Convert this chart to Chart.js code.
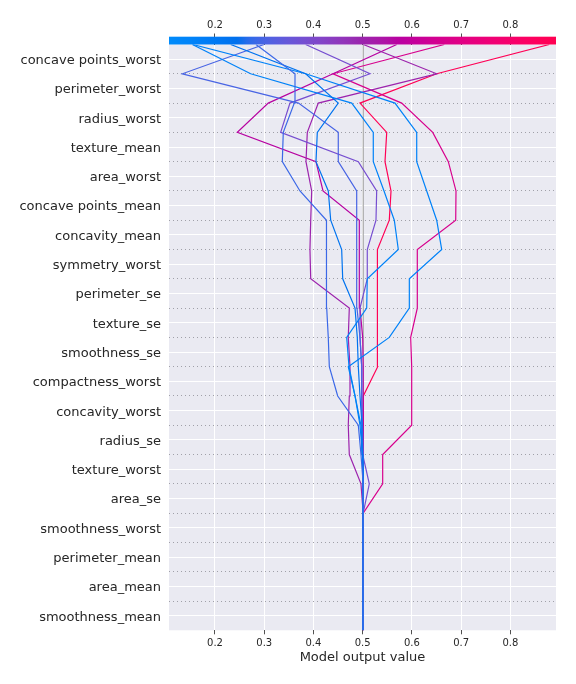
<!DOCTYPE html>
<html>
<head>
<meta charset="utf-8">
<script src="https://cdn.jsdelivr.net/npm/chart.js@4.4.0/dist/chart.umd.min.js"></script>
<style>
  html, body { margin: 0; padding: 0; background: #ffffff; }
  #wrap { width: 576px; height: 684px; }
</style>
</head>
<body>
<div id="wrap"><canvas id="c" width="576" height="684"></canvas></div>
<script>
// ---- data ----
const FEATURES = [
  "concave points_worst", "perimeter_worst", "radius_worst", "texture_mean",
  "area_worst", "concave points_mean", "concavity_mean", "symmetry_worst",
  "perimeter_se", "texture_se", "smoothness_se", "compactness_worst",
  "concavity_worst", "radius_se", "texture_worst", "area_se",
  "smoothness_worst", "perimeter_mean", "area_mean", "smoothness_mean"
];
const X_TICKS = [0.2, 0.3, 0.4, 0.5, 0.6, 0.7, 0.8];
const X_MIN = 0.1066;
const X_MAX = 0.8926;
const BASE_VALUE = 0.501;
const AXIS_TITLE = "Model output value";

// cumulative model output, from the base value (bottom) to the final output (top)
const obsA = [0.501,0.501,0.501,0.501,0.501,0.501,0.4965,0.4911,0.4492,0.4322,0.4301,0.4269,0.4269,0.4269,0.4255,0.3726,0.3367,0.3387,0.3611,0.3625,0.2833];
const obsB = [0.501,0.501,0.501,0.501,0.501,0.501,0.500,0.4986,0.4945,0.4911,0.489,0.4844,0.4594,0.4573,0.435,0.4301,0.4051,0.4078,0.4504,0.3842,0.2319];
const obsC = [0.501,0.501,0.501,0.501,0.501,0.501,0.4996,0.4965,0.4844,0.4722,0.4675,0.5081,0.5093,0.5723,0.5642,0.5433,0.5215,0.5215,0.4777,0.2725,0.154];
const obsD = [0.501,0.501,0.501,0.501,0.501,0.501,0.4996,0.4945,0.4844,0.4707,0.554,0.5947,0.5947,0.6605,0.6503,0.630,0.6097,0.6097,0.5656,0.3842,0.155];
const obsE = [0.501,0.501,0.501,0.501,0.501,0.501,0.501,0.4996,0.498,0.498,0.4945,0.4884,0.4878,0.4878,0.4878,0.4878,0.4504,0.4504,0.3696,0.1336,0.2995];
const obsF = [0.501,0.501,0.501,0.501,0.501,0.5134,0.500,0.4986,0.498,0.498,0.4945,0.4945,0.5093,0.5093,0.527,0.5284,0.4911,0.3334,0.3523,0.5148,0.3842];
const obsG = [0.501,0.501,0.501,0.501,0.501,0.4965,0.4728,0.4707,0.4728,0.4742,0.4707,0.4728,0.3944,0.3929,0.3944,0.3964,0.3848,0.3875,0.4098,0.6503,0.5012];
const obsH = [0.501,0.501,0.501,0.501,0.501,0.501,0.501,0.501,0.501,0.501,0.500,0.4945,0.4931,0.4931,0.4931,0.4194,0.4051,0.2453,0.3082,0.4397,0.5691];
const obsI = [0.501,0.501,0.501,0.501,0.501,0.5406,0.5406,0.5995,0.5995,0.5995,0.5975,0.6109,0.6109,0.6109,0.6889,0.6895,0.6739,0.6422,0.5792,0.4397,0.6658];
const obsJ = [0.501,0.501,0.501,0.501,0.501,0.501,0.501,0.501,0.5026,0.5305,0.5305,0.5297,0.5297,0.5297,0.554,0.5575,0.5453,0.5488,0.4945,0.6503,0.879];
const OBSERVATIONS = [obsA, obsB, obsC, obsD, obsE, obsF, obsG, obsH, obsI, obsJ];

// ---- colour map (shap red_blue, interpolated in LCh) ----
function redBlue(t) {
  t = Math.min(1, Math.max(0, t));
  const i = t * 99;
  const L = i <= 49 ? 54 + (40 - 54) * (i / 49) : 40 + (54 - 40) * ((i - 50) / 49);
  const C = 70 + 20 * t;
  const h = 4.6588 + (0.35470565 + 2 * Math.PI - 4.6588) * t;
  const a = C * Math.cos(h), b = C * Math.sin(h);
  const fy = (L + 16) / 116, fx = a / 500 + fy, fz = fy - b / 200;
  const finv = v => v > 0.2068966 ? v * v * v : (v - 16 / 116) / 7.787;
  const X = 0.95047 * finv(fx), Y = finv(fy), Z = 1.08883 * finv(fz);
  const r = 3.2404542 * X - 1.5371385 * Y - 0.4985314 * Z;
  const g = -0.9692660 * X + 1.8760108 * Y + 0.0415560 * Z;
  const bl = 0.0556434 * X - 0.2040259 * Y + 1.0572252 * Z;
  const gam = c => {
    c = c > 0.0031308 ? 1.055 * Math.pow(c, 1 / 2.4) - 0.055 : 12.92 * c;
    return Math.round(255 * Math.min(1, Math.max(0, c)));
  };
  return `rgb(${gam(r)},${gam(g)},${gam(bl)})`;
}
const norm = v => (v - X_MIN) / (X_MAX - X_MIN);

const TEXT = '#262626';
const FONT = "'DejaVu Sans', 'Liberation Sans', sans-serif";
Chart.defaults.font.family = FONT;

const datasets = OBSERVATIONS.map(vals => ({
  data: vals.map((v, k) => ({ x: v, y: k })),
  borderColor: redBlue(norm(vals[vals.length - 1])),
  borderWidth: 1.2,
  pointRadius: 0,
  tension: 0,
  fill: false,
  order: 0
}));
datasets.push({
  data: [{ x: BASE_VALUE, y: 0 }, { x: BASE_VALUE, y: FEATURES.length }],
  borderColor: '#999999',
  borderWidth: 1,
  pointRadius: 0,
  fill: false,
  order: 100
});

const bgPlugin = {
  id: 'bg',
  beforeDraw(chart) {
    const { ctx, chartArea: a } = chart;
    ctx.save();
    ctx.fillStyle = '#ffffff';
    ctx.fillRect(0, 0, chart.width, chart.height);
    ctx.fillStyle = '#EAEAF2';
    ctx.fillRect(a.left, a.top, a.right - a.left, a.bottom - a.top);
    ctx.restore();
  }
};
const colorbarPlugin = {
  id: 'colorbar',
  afterDraw(chart) {
    const { ctx, chartArea: a } = chart;
    const x = chart.scales.x;
    const l = x.getPixelForValue(X_MIN), r = x.getPixelForValue(X_MAX);
    const g = ctx.createLinearGradient(l, 0, r, 0);
    const n = 80;
    for (let i = 0; i <= n; i++) g.addColorStop(i / n, redBlue(i / n));
    ctx.save();
    ctx.fillStyle = g;
    ctx.fillRect(l, a.top - 7.8, r - l, 7.8);
    ctx.restore();
  }
};

const tickSet = s => { s.ticks = X_TICKS.map(v => ({ value: v })); };

new Chart(document.getElementById('c'), {
  type: 'line',
  data: { datasets },
  options: {
    responsive: false,
    animation: false,
    devicePixelRatio: 1,
    layout: { padding: { left: 0, right: 20, top: 0, bottom: 0 } },
    plugins: { legend: { display: false }, tooltip: { enabled: false } },
    scales: {
      x: {
        type: 'linear', position: 'bottom', min: X_MIN, max: X_MAX,
        afterBuildTicks: tickSet,
        ticks: { callback: v => v.toFixed(1), font: { size: 10 }, color: TEXT, padding: 2.8, maxRotation: 0, autoSkip: false },
        grid: { color: '#ffffff', lineWidth: 1, tickColor: TEXT, tickLength: 4, tickWidth: 0.8 },
        border: { display: false },
        title: { display: true, text: AXIS_TITLE, font: { size: 13 }, color: TEXT, padding: { top: 0, bottom: 18.8 } },
        afterFit: s => { s.height = 684 - 630.3; }
      },
      x2: {
        type: 'linear', position: 'top', min: X_MIN, max: X_MAX,
        afterBuildTicks: tickSet,
        ticks: { callback: v => v.toFixed(1), font: { size: 10 }, color: TEXT, padding: 2.4, maxRotation: 0, autoSkip: false },
        grid: { drawOnChartArea: false, color: TEXT, tickLength: 11, lineWidth: 0.8 },
        border: { display: false },
        afterFit: s => { s.height = 44.5; }
      },
      y: {
        type: 'linear', position: 'left', min: 0, max: FEATURES.length,
        afterBuildTicks: s => { s.ticks = FEATURES.map((_, i) => ({ value: FEATURES.length - 0.5 - i })); },
        ticks: {
          callback: v => FEATURES[Math.round(FEATURES.length - 0.5 - v)],
          font: { size: 13 }, color: TEXT, padding: 8, autoSkip: false, labelOffset: 1.5
        },
        grid: { color: '#ffffff', lineWidth: 1, drawTicks: false },
        border: { display: false },
        afterFit: s => { s.width = 169; }
      },
      y2: {
        type: 'linear', position: 'left', min: 0, max: FEATURES.length,
        afterBuildTicks: s => { s.ticks = FEATURES.slice(1).map((_, i) => ({ value: i + 1 })); },
        ticks: { display: false },
        grid: { color: '#a0a0a8', lineWidth: 1, drawTicks: false },
        border: { display: false, dash: [1, 3] },
        afterFit: s => { s.width = 0; }
      }
    }
  },
  plugins: [bgPlugin, colorbarPlugin]
});
</script>
</body>
</html>
